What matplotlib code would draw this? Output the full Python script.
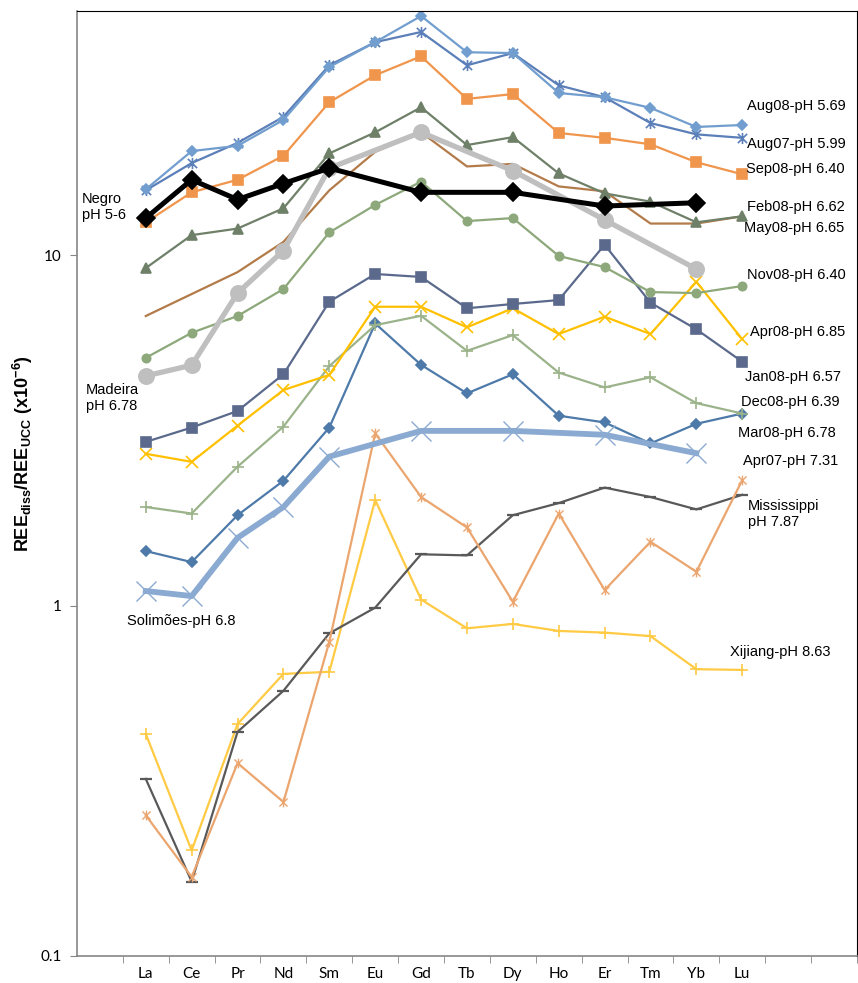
import numpy as np
import matplotlib
matplotlib.use("Agg")
import matplotlib.pyplot as plt
from matplotlib.path import Path
from matplotlib.ticker import FixedLocator, NullLocator, FixedFormatter

plt.rcParams['font.family'] = ['Liberation Sans', 'DejaVu Sans']
plt.rcParams['mathtext.fontset'] = 'custom'
plt.rcParams['mathtext.rm'] = 'Liberation Sans'
plt.rcParams['mathtext.bf'] = 'Liberation Sans:bold'

# REE elements (categories), plotted at positions 1..14 on a 17-slot axis
elements = ['La', 'Ce', 'Pr', 'Nd', 'Sm', 'Eu', 'Gd', 'Tb', 'Dy', 'Ho', 'Er', 'Tm', 'Yb', 'Lu']
nan = np.nan

aug08 = [15.4, 19.8, 20.5, 24.3, 34.4, 40.5, 48.1, 37.9, 37.7, 29.0, 28.2, 26.3, 23.2, 23.5]
aug07 = [15.3, 18.3, 20.9, 24.8, 34.8, 40.5, 43.3, 34.8, 37.7, 30.5, 28.2, 23.8, 22.1, 21.6]
sep08 = [12.4, 15.1, 16.4, 19.2, 27.3, 32.6, 36.9, 27.9, 28.8, 22.3, 21.6, 20.7, 18.4, 17.0]
may08 = [9.18, 11.4, 11.9, 13.6, 19.5, 22.4, 26.4, 20.6, 21.7, 17.1, 15.0, 14.2, 12.4, 12.9]
feb08 = [6.70, 7.74, 8.94, 10.9, 15.3, 19.7, 22.4, 17.9, 18.2, 15.7, 15.2, 12.3, 12.3, 12.9]
nov08 = [5.09, 6.00, 6.70, 8.00, 11.6, 13.9, 16.2, 12.5, 12.75, 9.94, 9.24, 7.84, 7.79, 8.16]
jan08 = [2.93, 3.22, 3.59, 4.57, 7.36, 8.83, 8.66, 7.05, 7.25, 7.44, 10.7, 7.31, 6.14, 4.96]
apr08 = [2.71, 2.57, 3.26, 4.12, 4.55, 7.12, 7.12, 6.22, 7.05, 5.95, 6.67, 5.95, 8.39, 5.75]
dec08 = [1.91, 1.83, 2.49, 3.24, 4.82, 6.31, 6.71, 5.33, 5.91, 4.62, 4.19, 4.48, 3.78, 3.53]
mar08 = [1.43, 1.33, 1.81, 2.27, 3.22, 6.38, 4.86, 4.03, 4.57, 3.48, 3.33, 2.90, 3.30, 3.53]
apr07 = [0.252, 0.168, 0.355, 0.275, 0.788, 3.10, 2.04, 1.67, 1.025, 1.83, 1.107, 1.52, 1.248, 2.28]
mississippi = [0.320, 0.163, 0.436, 0.571, 0.833, 0.986, 1.40, 1.39, 1.81, 1.96, 2.17, 2.04, 1.88, 2.07]
xijiang = [0.430, 0.200, 0.459, 0.638, 0.647, 2.00, 1.04, 0.861, 0.886, 0.846, 0.837, 0.818, 0.658, 0.655]
solimoes = [1.10, 1.064, 1.56, 1.91, 2.66, nan, 3.15, nan, 3.15, nan, 3.07, nan, 2.72, nan]
madeira = [4.52, 4.85, 7.79, 10.3, 17.7, nan, 22.4, nan, 17.4, nan, 12.6, nan, 9.12, nan]
negro = [12.75, 16.4, 14.4, 16.0, 17.7, nan, 15.1, nan, 15.1, nan, 13.8, nan, 14.1, nan]

pos = np.arange(1, 15)

fig = plt.figure(figsize=(8.58, 9.83), dpi=100)
ax = fig.add_axes([0.0897, 0.0275, 0.9091, 0.9613])

# Excel style star: an X with a vertical bar through it
star = Path([(-1, -1), (1, 1), (-1, 1), (1, -1), (0, -1.2), (0, 1.2)],
            [Path.MOVETO, Path.LINETO, Path.MOVETO, Path.LINETO, Path.MOVETO, Path.LINETO])

def draw(vals, color, lw=1.6, marker=None, ms=6, mew=1.2, z=2):
    v = np.array(vals, dtype=float)
    m = ~np.isnan(v)
    ax.plot(pos[m], v[m], color=color, lw=lw, marker=marker, ms=ms,
            mew=mew, mec=color, mfc=color, zorder=z)

draw(xijiang, '#FFCA44', marker='+', ms=8)
draw(mississippi, '#595959', marker='_', ms=8, mew=1.6)
draw(apr07, '#EBA56E', marker=star, ms=7, mew=1.0)
draw(mar08, '#4E7AAA', marker='D', ms=5)
draw(dec08, '#9BB38A', marker='+', ms=8)
draw(apr08, '#FFC000', marker='x', ms=8)
draw(jan08, '#5B6A8C', marker='s', ms=7)
draw(nov08, '#8DA87A', marker='o', ms=6)
draw(feb08, '#B37B4A')
draw(may08, '#6F8069', marker='^', ms=7)
draw(sep08, '#F0954C', marker='s', ms=7)
draw(aug07, '#5B7FB8', marker=star, ms=8, mew=1.2)
draw(aug08, '#719ECF', marker='D', ms=5)
draw(solimoes, '#8BAAD2', lw=4.2, marker='x', ms=14, mew=1.0, z=3)
draw(madeira, '#BFBFBF', lw=3.8, marker='o', ms=11, z=4)
draw(negro, '#000000', lw=3.6, marker='D', ms=9, z=5)

ax.set_yscale('log')
ax.set_ylim(0.1, 49.7)
ax.set_xlim(-0.5, 16.5)

ax.yaxis.set_major_locator(FixedLocator([0.1, 1, 10]))
ax.yaxis.set_major_formatter(FixedFormatter(['0.1', '1', '10']))
ax.yaxis.set_minor_locator(NullLocator())
ax.tick_params(axis='y', which='major', direction='out', length=5, color='#868686',
               labelsize=11, pad=6)

ax.xaxis.set_major_locator(FixedLocator(list(pos)))
ax.xaxis.set_major_formatter(FixedFormatter(elements))
ax.xaxis.set_minor_locator(FixedLocator(list(np.arange(0.5, 16.6, 1.0))))
ax.tick_params(axis='x', which='major', length=0, labelsize=11, pad=8)
ax.tick_params(axis='x', which='minor', direction='out', length=5, color='#868686')
for lab in ax.get_xticklabels() + ax.get_yticklabels():
    lab.set_family(['Lato', 'DejaVu Sans'])

ax.spines['left'].set_color('#868686')
ax.spines['bottom'].set_color('#868686')
ax.spines['left'].set_linewidth(1.2)
ax.spines['bottom'].set_linewidth(1.2)
ax.spines['top'].set_color('black')
ax.spines['right'].set_color('black')

ax.set_ylabel(r'$\mathbf{REE_{diss}/REE_{UCC}\ (x10^{-6})}$', fontsize=13)
ax.yaxis.set_label_coords(-0.054, 0.532)

# labels placed in pixel positions converted to data
def px_to_data(px, py):
    x = (px - 77) / 45.88 - 0.5
    y = 10 ** (1 + (255 - py) / 350.5)
    return x, y

labels = [
    ("Negro\npH 5-6", 82, 207),
    ("Madeira\npH 6.78", 86, 398),
    ("Solimões-pH 6.8", 127, 621),
    ("Aug08-pH 5.69", 747, 106),
    ("Aug07-pH 5.99", 747, 144),
    ("Sep08-pH 6.40", 746, 169),
    ("Feb08-pH 6.62", 747, 207),
    ("May08-pH 6.65", 744, 228),
    ("Nov08-pH 6.40", 747, 275),
    ("Apr08-pH 6.85", 750, 332),
    ("Jan08-pH 6.57", 745, 377),
    ("Dec08-pH 6.39", 741, 402),
    ("Mar08-pH 6.78", 738, 433),
    ("Apr07-pH 7.31", 743, 461),
    ("Mississippi\npH 7.87", 748, 514),
    ("Xijiang-pH 8.63", 730, 652),
]
for txt, px, py in labels:
    x, y = px_to_data(px, py)
    ax.text(x, y, txt, fontsize=10.5, ha='left', va='center', zorder=10,
            linespacing=1.25)

fig.savefig('out.png', dpi=100)
